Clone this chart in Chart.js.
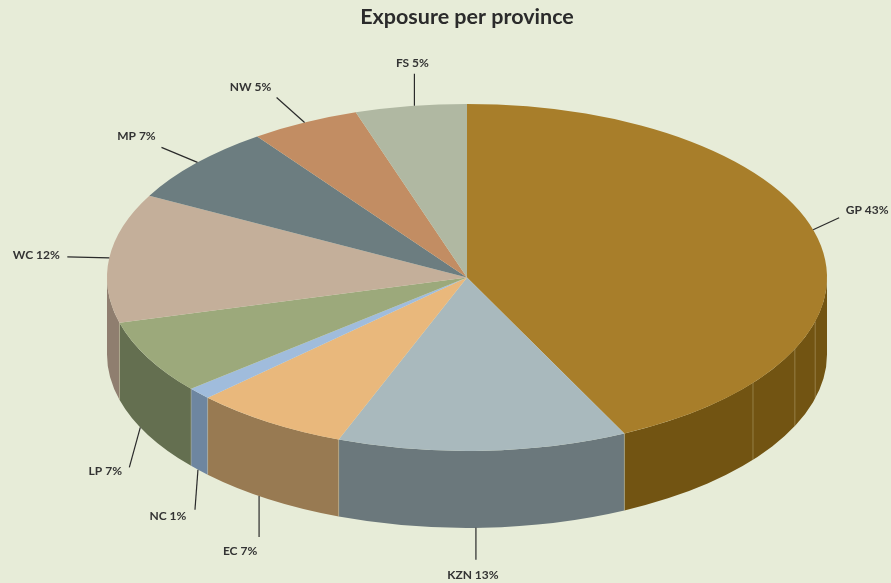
<!DOCTYPE html>
<html>
<head>
<meta charset="utf-8">
<title>Exposure per province</title>
<script src="https://cdn.jsdelivr.net/npm/chart.js@4"></script>
<style>
    html, body { margin: 0; padding: 0; background: #e7ecd8; }
    canvas { display: block; }
</style>
</head>
<body>
<canvas id="exposureChart" width="891" height="583"></canvas>
<script>
// Values (share of the pie, labels show them rounded)
const provinces = ['GP', 'KZN', 'EC', 'NC', 'LP', 'WC', 'MP', 'NW', 'FS'];
const exposureShares = [42.8, 13.0, 7.0, 1.1, 6.9, 12.0, 7.3, 4.9, 5.0];

const sliceColours = ['#a87e2a', '#a9b9bd', '#e9b87c', '#a0bcdc', '#9ca97b', '#c4af9a', '#6c7d80', '#c28d63', '#b0b8a2'];
const wallColours = ['#725412', '#6b787c', '#987a52', '#6e86a0', '#646f50', '#8f7e6f', '#4f5d60', '#8f6844', '#80887a'];

// Pie tilt
const tilt = 0.482;
const wallDepth = 77;

// Faint facet lines on the GP wall, degrees clockwise from 12 o'clock
const facetAngles = [104.7, 114.4, 127.4];

// Callouts per province: angle nudge from the slice middle, leader end, text offset from leader end
const callouts = [
    { nudge: -3, dx: 26, dy: -12, tx: 28, ty: -8 },
    { nudge: 1.1, dx: 0, dy: 32, tx: -3, ty: 15 },
    { nudge: 1.8, dx: 0, dy: 41, tx: -19, ty: 14 },
    { nudge: 0.3, dx: -3, dy: 40, tx: -27, ty: 6 },
    { nudge: 2.7, dx: -11, dy: 40, tx: -24, ty: 4 },
    { nudge: 0, dx: -42, dy: -1, tx: -31, ty: -2 },
    { nudge: 0.3, dx: -36, dy: -15, tx: -25, ty: -11 },
    { nudge: 0, dx: -28, dy: -25, tx: -26, ty: -10 },
    { nudge: 0.6, dx: 0, dy: -32, tx: -2, ty: -11 }
];

const tiltedPie = {
    id: 'tiltedPie',
    beforeDatasetsDraw(chart) {
        const ctx = chart.ctx;
        const arcs = chart.getDatasetMeta(0).data;
        const cx = arcs[0].x;
        const cy = arcs[0].y;
        const rx = arcs[0].outerRadius;
        const ry = rx * tilt;

        // Side walls, only the part of each slice facing the viewer
        arcs.forEach(function (arc, i) {
            const a0 = Math.max(arc.startAngle, 0);
            const a1 = Math.min(arc.endAngle, Math.PI);
            if (a1 <= a0) return;
            ctx.beginPath();
            ctx.ellipse(cx, cy, rx, ry, 0, a0, a1);
            ctx.ellipse(cx, cy + wallDepth, rx, ry, 0, a1, a0, true);
            ctx.closePath();
            ctx.fillStyle = wallColours[i];
            ctx.fill();
        });

        // Seams between the walls
        const seams = arcs.map(function (arc) { return arc.startAngle; })
            .concat(facetAngles.map(function (deg) { return (deg - 90) * Math.PI / 180; }));
        ctx.strokeStyle = 'rgba(214, 205, 170, 0.35)';
        ctx.lineWidth = 1;
        seams.forEach(function (a) {
            if (a <= 0 || a >= Math.PI) return;
            const x = cx + rx * Math.cos(a);
            const y = cy + ry * Math.sin(a);
            ctx.beginPath();
            ctx.moveTo(x, y);
            ctx.lineTo(x, y + wallDepth);
            ctx.stroke();
        });

        // Squash the circle the controller draws
        ctx.save();
        ctx.translate(cx, cy);
        ctx.scale(1, tilt);
        ctx.translate(-cx, -cy);
    },
    afterDatasetsDraw(chart) {
        const ctx = chart.ctx;
        ctx.restore();

        const arcs = chart.getDatasetMeta(0).data;
        ctx.font = 'bold 12px Lato';
        ctx.textAlign = 'center';
        ctx.textBaseline = 'middle';
        arcs.forEach(function (arc, i) {
            const c = callouts[i];
            const a = (arc.startAngle + arc.endAngle) / 2 + c.nudge * Math.PI / 180;
            const x = arc.x + arc.outerRadius * Math.cos(a);
            let y = arc.y + arc.outerRadius * tilt * Math.sin(a);
            if (Math.sin(a) > 0.3) y += wallDepth;
            ctx.strokeStyle = '#2a2a2a';
            ctx.lineWidth = 1.2;
            ctx.beginPath();
            ctx.moveTo(x, y);
            ctx.lineTo(x + c.dx, y + c.dy);
            ctx.stroke();
            ctx.fillStyle = '#333333';
            ctx.fillText(provinces[i] + ' ' + Math.round(exposureShares[i]) + '%', x + c.dx + c.tx, y + c.dy + c.ty);
        });
    }
};

new Chart(document.getElementById('exposureChart').getContext('2d'), {
    type: 'pie',
    data: {
        labels: provinces,
        datasets: [{
            data: exposureShares,
            backgroundColor: sliceColours,
            borderWidth: 0,
            clip: false
        }]
    },
    options: {
        responsive: false,
        animation: false,
        radius: 360,
        events: [],
        layout: {
            padding: { left: 43, top: 0, right: 0, bottom: 58 }
        },
        plugins: {
            legend: { display: false },
            tooltip: { enabled: false },
            title: {
                display: true,
                text: 'Exposure per province',
                color: '#2b2b2b',
                font: { family: 'Lato', size: 21.5, weight: 'bold', lineHeight: 1.2 },
                padding: { top: 4, bottom: 0 }
            }
        }
    },
    plugins: [tiltedPie]
});
</script>
</body>
</html>
